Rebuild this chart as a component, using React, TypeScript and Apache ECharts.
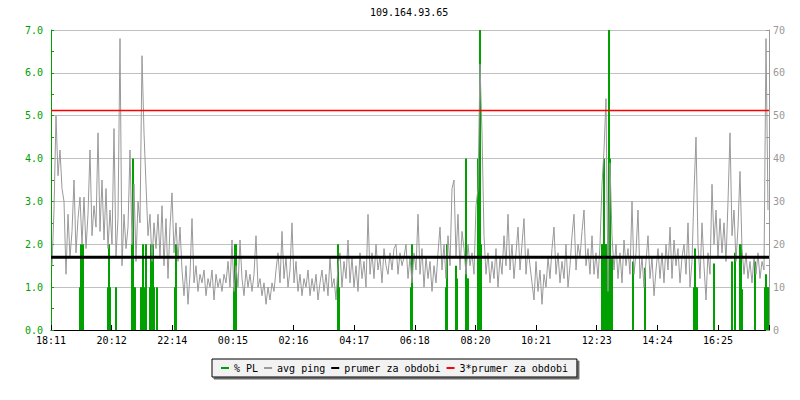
import React, { useEffect, useRef } from "react";
import * as echarts from "echarts";

const title = "109.164.93.65";
const xLabels = ["18:11", "20:12", "22:14", "00:15", "02:16", "04:17", "06:18", "08:20", "10:21", "12:23", "14:24", "16:25"];
const tickStepMin = 121.27;
const spanMin = 1436;

// avg ping samples (ms), one every 4 minutes starting at minute 2
const pingStart = 2;
const pingStep = 4;
const pingValues = [
  15, 28, 50, 36, 42, 33, 30, 13, 27, 17,
  23, 35, 18, 26, 31, 20, 31, 19, 27, 42,
  22, 29, 24, 46, 23, 35, 21, 33, 19, 28,
  20, 47, 17, 26, 68, 15, 27, 19, 24, 42,
  20, 34, 16, 30, 25, 64, 46, 34, 22, 27,
  16, 25, 19, 27, 17, 29, 15, 26, 12, 24,
  32, 18, 25, 16, 24, 14, 8, 15, 6, 13,
  26, 11, 15, 9, 13, 11, 14, 8, 12, 10,
  14, 7, 13, 10, 12, 9, 13, 11, 16, 10,
  21, 9, 15, 10, 21, 12, 8, 14, 10, 13,
  9, 13, 22, 10, 12, 8, 11, 6, 10, 7,
  11, 9, 14, 18, 11, 23, 12, 17, 10, 14,
  25, 11, 16, 9, 13, 8, 12, 10, 14, 8,
  12, 9, 13, 7, 11, 14, 9, 13, 8, 17,
  10, 12, 7, 15, 18, 10, 16, 12, 21, 11,
  17, 10, 15, 9, 18, 12, 16, 10, 27, 13,
  18, 12, 20, 14, 17, 11, 19, 15, 13, 18,
  14, 19, 20, 13, 18, 15, 17, 20, 12, 17,
  11, 18, 14, 27, 13, 19, 10, 17, 12, 16,
  9, 15, 11, 18, 24, 14, 20, 12, 22, 15,
  33, 35, 17, 27, 14, 23, 19, 13, 20, 15,
  18, 13, 29, 33, 62, 46, 22, 13, 18, 11,
  16, 12, 19, 10, 17, 13, 22, 15, 27, 14,
  20, 12, 18, 24, 14, 20, 26, 13, 19, 15,
  11, 7, 16, 9, 14, 6, 13, 10, 17, 12,
  19, 24, 13, 18, 11, 16, 12, 20, 10, 15,
  22, 27, 14, 20, 17, 23, 28, 15, 19, 13,
  22, 13, 18, 12, 20, 34, 42, 54, 9, 39,
  22, 14, 20, 12, 18, 11, 21, 15, 19, 13,
  30, 13, 18, 28, 12, 17, 10, 16, 22, 12,
  17, 8, 14, 19, 12, 18, 11, 20, 14, 24,
  12, 21, 15, 19, 11, 17, 20, 13, 25, 10,
  16, 32, 45, 20, 12, 25, 15, 7, 18, 13,
  34, 20, 28, 17, 26, 18, 25, 16, 30, 46,
  22, 28, 16, 24, 37, 19, 13, 18, 12, 16,
  11, 17, 13, 18, 12, 16, 14, 68, 28,
];

// packet loss (%), minute -> value
const plMinutes = [
  58, 60, 62, 64,
  114, 116, 118,
  130,
  162, 164, 166, 168,
  180, 182, 184, 186,
  190,
  198, 200, 202, 204, 206,
  212,
  248, 250,
  366, 368, 370,
  574, 576,
  720, 722,
  790, 792,
  810, 812,
  830, 832, 834,
  854, 856, 858, 860,
  1102, 1104, 1106, 1108, 1110, 1112, 1114, 1116, 1118, 1120, 1122,
  1164,
  1188,
  1286, 1288, 1290, 1292,
  1326,
  1362, 1368, 1378, 1380, 1382,
  1408,
  1428, 1430, 1432, 1434,
];
const plValues = [
  1, 2, 1, 2,
  1, 2, 1,
  1,
  2, 4, 1, 1,
  1, 1, 2, 1,
  2,
  1, 2, 1, 2, 1,
  1,
  1, 2,
  1, 2, 2,
  2, 1,
  1, 2,
  1, 2,
  1.5, 1.2,
  4, 1.2, 1.2,
  4, 2, 7, 2,
  2, 2, 4, 2, 2, 2, 1.5, 7, 4, 1, 1.7,
  1.6,
  1.45,
  1, 1.9, 1, 1,
  1.55,
  1.6, 1.8, 2, 2, 0.95,
  1.6,
  1, 1.3, 1, 1,
];

const avgPing = 17.0;
const triplePing = 51.2;

const seriesNames = ["% PL", "avg ping", "prumer za obdobi", "3*prumer za obdobi"];
const green = "#00a000";
const gray = "#999999";
const font = "DejaVu Sans Mono";

export default function App() {
  const ref = useRef<HTMLDivElement>(null);

  useEffect(() => {
    if (!ref.current) return;
    const chart = echarts.init(ref.current, undefined, { renderer: "svg" });
    const pingData = pingValues.map((v, i) => [pingStart + i * pingStep, v]);
    const plData = plMinutes.map((m, i) => [m, plValues[i]]);

    chart.setOption({
      animation: false,
      backgroundColor: "#ffffff",
      title: {
        text: title,
        left: 370,
        top: 7,
        padding: 0,
        textStyle: { fontFamily: font, fontSize: 10, fontWeight: "normal", color: "#000" },
      },
      legend: {
        data: seriesNames,
        left: 212,
        top: 359,
        padding: [4, 9, 4, 9],
        itemGap: 6,
        itemWidth: 8,
        itemHeight: 2,
        icon: "rect",
        backgroundColor: "#f2f2f2",
        borderColor: "#000",
        borderWidth: 1,
        shadowColor: "#666",
        shadowOffsetX: 2,
        shadowOffsetY: 2,
        shadowBlur: 0,
        textStyle: { fontFamily: font, fontSize: 10, color: "#000" },
      },
      grid: { left: 51, right: 31, top: 30, bottom: 70 },
      xAxis: {
        type: "value",
        min: 0,
        max: spanMin,
        interval: tickStepMin,
        axisLine: { show: true, lineStyle: { color: "#000", width: 1 } },
        axisTick: { show: true, inside: true, length: 5, lineStyle: { color: "#000" } },
        axisLabel: {
          fontFamily: font,
          fontSize: 10,
          color: "#000",
          margin: 5,
          formatter: (v: number) => {
            const idx = Math.round(v / tickStepMin);
            if (Math.abs(v - idx * tickStepMin) > 1) return "";
            return xLabels[idx] ?? "";
          },
        },
        splitLine: { show: false },
      },
      yAxis: [
        {
          type: "value",
          min: 0,
          max: 7,
          interval: 1,
          position: "left",
          axisLine: { show: true, lineStyle: { color: green } },
          axisTick: { show: true, inside: true, length: 3, lineStyle: { color: green } },
          minorTick: { show: true, splitNumber: 2, length: 3, lineStyle: { color: green } },
          axisLabel: {
            fontFamily: font,
            fontSize: 10,
            color: green,
            margin: 8,
            formatter: (v: number) => v.toFixed(1),
          },
          splitLine: { show: true, lineStyle: { color: "#c0c0c0", width: 1 } },
        },
        {
          type: "value",
          min: 0,
          max: 70,
          interval: 10,
          position: "right",
          axisLine: { show: true, lineStyle: { color: gray } },
          axisTick: { show: true, inside: true, length: 3, lineStyle: { color: gray } },
          minorTick: { show: true, splitNumber: 2, length: 3, lineStyle: { color: gray } },
          axisLabel: { fontFamily: font, fontSize: 10, color: gray, margin: 4 },
          splitLine: { show: false },
        },
      ],
      series: [
        {
          name: seriesNames[0],
          type: "bar",
          yAxisIndex: 0,
          data: plData,
          barWidth: 2,
          color: green,
          itemStyle: { color: green },
        },
        {
          name: seriesNames[1],
          type: "line",
          yAxisIndex: 1,
          data: pingData,
          showSymbol: false,
          symbol: "none",
          color: gray,
          lineStyle: { color: gray, width: 1 },
        },
        {
          name: seriesNames[2],
          type: "line",
          yAxisIndex: 1,
          data: [[0, avgPing], [spanMin, avgPing]],
          showSymbol: false,
          symbol: "none",
          color: "#000000",
          lineStyle: { color: "#000000", width: 3 },
        },
        {
          name: seriesNames[3],
          type: "line",
          yAxisIndex: 1,
          data: [[0, triplePing], [spanMin, triplePing]],
          showSymbol: false,
          symbol: "none",
          color: "#ff0000",
          lineStyle: { color: "#ff0000", width: 1.5 },
        },
      ],
    });
    return () => chart.dispose();
  }, []);

  return (
    <div
      ref={ref}
      style={{ position: "fixed", left: 0, top: 0, width: 800, height: 400, background: "#fff" }}
    />
  );
}
